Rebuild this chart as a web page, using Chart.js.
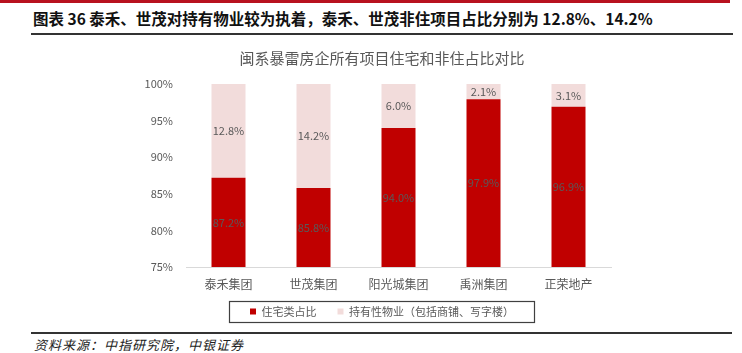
<!DOCTYPE html>
<html>
<head>
<meta charset="utf-8">
<script src="https://cdn.jsdelivr.net/npm/chart.js@4/dist/chart.umd.min.js"></script>
<style>
  body { margin: 0; background: #fff; width: 742px; height: 353px; position: relative; overflow: hidden; font-family: "Noto Sans CJK SC", sans-serif; }
  #topbar { position: absolute; left: 0; top: 0; width: 730px; height: 3px; background: #b8121f; }
  #heading { position: absolute; left: 33px; top: 7px; font-size: 15.5px; font-weight: bold; color: #111; white-space: nowrap; line-height: 22px; }
  #rule1 { position: absolute; left: 31px; top: 33px; width: 702px; height: 1.5px; background: #333; }
  #rule2 { position: absolute; left: 31px; top: 332px; width: 701px; height: 1.5px; background: #333; }
  #source { position: absolute; left: 34px; top: 336px; font-size: 13px; font-style: italic; letter-spacing: 1px; color: #222; white-space: nowrap; line-height: 18px; }
  #wrap { position: absolute; left: 140px; top: 40px; width: 484px; height: 290px; }
</style>
</head>
<body>
<div id="topbar"></div>
<div id="heading">图表 36 泰禾、世茂对持有物业较为执着，泰禾、世茂非住项目占比分别为 12.8%、14.2%</div>
<div id="rule1"></div>
<div id="wrap"><canvas id="myChart" width="484" height="290"></canvas></div>
<div id="rule2"></div>
<div id="source">资料来源：中指研究院，中银证券</div>

<script>
// data
var companies = ['泰禾集团', '世茂集团', '阳光城集团', '禹洲集团', '正荣地产'];
var residentialShare = [87.2, 85.8, 94.0, 97.9, 96.9];
var holdingShare = [12.8, 14.2, 6.0, 2.1, 3.1];
var seriesNames = ['住宅类占比', '持有性物业（包括商铺、写字楼）'];
var chartTitle = '闽系暴雷房企所有项目住宅和非住占比对比';
var yMin = 75, yMax = 100, yStep = 5;

var grey = '#595959';
var fontName = '"Noto Sans CJK SC", sans-serif';

// value labels in the middle of the visible part of each bar
var barLabels = {
    id: 'barLabels',
    afterDatasetsDraw: function (chart) {
        var ctx = chart.ctx;
        var area = chart.chartArea;
        ctx.save();
        ctx.font = '11px ' + fontName;
        ctx.fillStyle = grey;
        ctx.textAlign = 'center';
        ctx.textBaseline = 'middle';
        chart.data.datasets.forEach(function (ds, i) {
            chart.getDatasetMeta(i).data.forEach(function (bar, j) {
                var top = Math.max(bar.y, area.top);
                var bottom = Math.min(bar.base, area.bottom);
                ctx.fillText(ds.data[j].toFixed(1) + '%', bar.x, (top + bottom) / 2);
            });
        });
        ctx.restore();
    }
};

// frame round the legend
var legendFrame = {
    id: 'legendFrame',
    afterDraw: function (chart) {
        var boxes = chart.legend.legendHitBoxes;
        if (!boxes || !boxes.length) return;
        var first = boxes[0], last = boxes[boxes.length - 1];
        var mid = first.top + first.height / 2;
        var ctx = chart.ctx;
        ctx.save();
        ctx.strokeStyle = '#404040';
        ctx.lineWidth = 1.2;
        ctx.strokeRect(Math.round(first.left - 21) + 0.5, Math.round(mid - 10.5) + 0.5,
            Math.round(last.left + last.width - first.left + 41), 21);
        ctx.restore();
    }
};

var ctx = document.getElementById('myChart').getContext('2d');
var myChart = new Chart(ctx, {
    type: 'bar',
    data: {
        labels: companies,
        datasets: [{
            label: seriesNames[0],
            data: residentialShare,
            backgroundColor: '#c00000',
            borderWidth: 0,
            barPercentage: 0.4,
            categoryPercentage: 1.0
        }, {
            label: seriesNames[1],
            data: holdingShare,
            backgroundColor: '#f2dcdb',
            borderWidth: 0,
            barPercentage: 0.4,
            categoryPercentage: 1.0
        }]
    },
    options: {
        responsive: false,
        animation: false,
        layout: { padding: { top: 0, left: 0, right: 0, bottom: 3 } },
        plugins: {
            title: {
                display: true,
                text: chartTitle,
                color: grey,
                font: { family: fontName, size: 15, weight: 'normal' },
                padding: { top: 9, bottom: 17 }
            },
            legend: {
                position: 'bottom',
                labels: {
                    boxWidth: 6,
                    boxHeight: 6,
                    padding: 10,
                    color: grey,
                    font: { family: fontName, size: 11 },
                    generateLabels: function (chart) {
                        var items = Chart.defaults.plugins.legend.labels.generateLabels(chart);
                        // wider gap between the two entries
                        items.forEach(function (it, i) {
                            if (i < items.length - 1) it.text = it.text + '　';
                        });
                        return items;
                    }
                }
            },
            tooltip: { enabled: false }
        },
        scales: {
            x: {
                stacked: true,
                grid: { display: false, drawTicks: false },
                border: { display: true, color: '#d9d9d9', width: 1 },
                ticks: { color: grey, font: { family: fontName, size: 12 }, padding: 10 },
                afterFit: function (scale) { scale.height = 29; }
            },
            y: {
                stacked: true,
                min: yMin,
                max: yMax,
                grid: { display: false, drawTicks: false },
                border: { display: false },
                ticks: {
                    stepSize: yStep,
                    color: grey,
                    font: { family: fontName, size: 11 },
                    padding: 13,
                    callback: function (v) { return v + '%'; }
                },
                afterFit: function (scale) { scale.width = 46; }
            },
            y2: {
                position: 'right',
                display: true,
                grid: { display: false, drawTicks: false },
                border: { display: false },
                ticks: { display: false },
                afterFit: function (scale) { scale.width = 13; }
            }
        }
    },
    plugins: [barLabels, legendFrame]
});
</script>
</body>
</html>
